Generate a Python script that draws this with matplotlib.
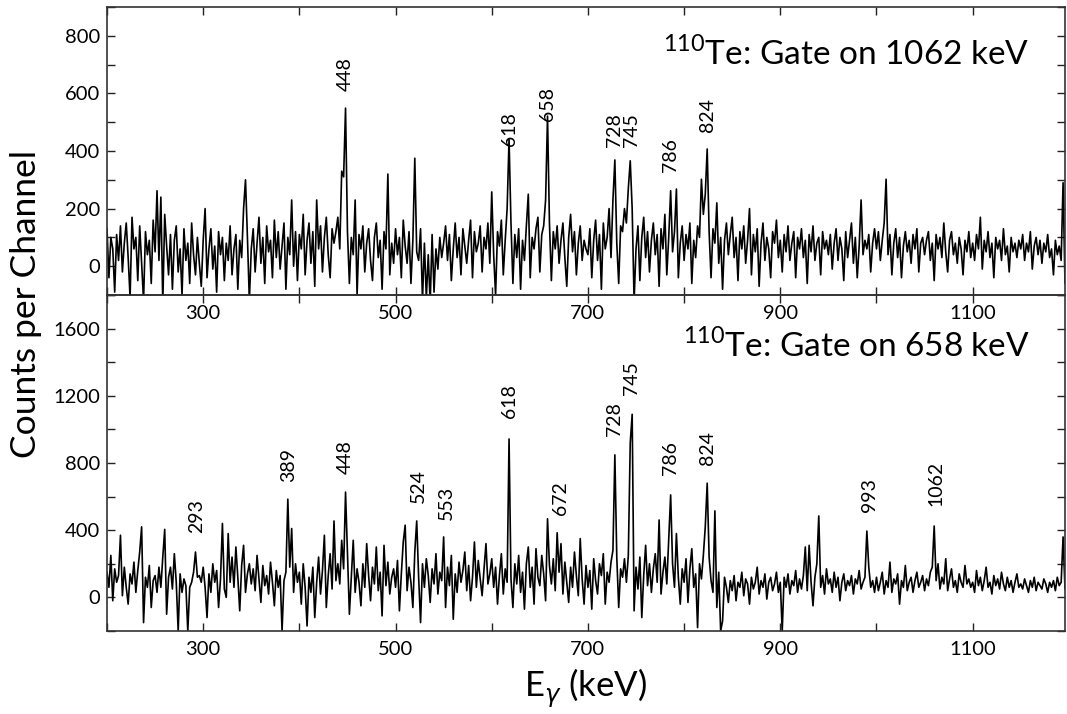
import numpy as np
import matplotlib
matplotlib.use("Agg")
import matplotlib.pyplot as plt
from matplotlib.ticker import MultipleLocator

plt.rcParams['font.family'] = ['Lato', 'DejaVu Sans']
plt.rcParams['font.weight'] = 'normal'
plt.rcParams['text.color'] = 'black'
plt.rcParams['xtick.color'] = 'black'
plt.rcParams['ytick.color'] = 'black'
plt.rcParams['mathtext.fontset'] = 'dejavusans'

# channel energies (keV), 2 keV per point
energy = np.arange(200, 1200, 2)

# counts per channel, gate on 1062 keV (rows of 50 keV)
gate_1062 = [
    130, -40, 100, 60, -90, 110, 20, 140, -20, 80, 150, 30, -110, 170, 60, 100, -50, 140, 10, -120, 120, 40, 90, -60, 160,
    50, 262, 20, 240, -130, 180, 70, -30, 110, -80, 90, 140, -20, 60, -100, 130, 20, 80, -60, 150, 40, -30, 100, 10, -70,
    90, 200, -40, 60, 130, -10, 70, -90, 120, 40, 100, -50, 80, 20, 140, -30, 60, 110, -80, 90, 30, 200, 300, 100, -120,
    60, 130, -20, 80, 170, 10, 100, -60, 140, 50, 90, -40, 160, 30, 120, -10, 70, 150, -80, 100, 40, 230, 0, 120, -50,
    110, 60, 180, -30, 90, 150, 10, 120, -70, 230, 60, 140, -20, 100, 170, 40, -40, 130, 80, 120, 170, 60, 330, 310, 549,
    120, -60, 100, 40, 230, -100, 110, 60, 140, -20, 80, 130, 20, -50, 100, 150, 30, 90, -80, 120, 60, 320, -30, 80, 10,
    130, 40, 100, -40, 160, 70, 10, 120, -60, 90, 375, 50, 20, 130, -120, 80, -110, 40, -130, 110, -90, 60, -10, 100, 30,
    80, 140, 20, 110, -50, 60, 150, 30, 100, -30, 130, 70, 10, 90, 160, -40, 120, 50, 80, 140, -20, 100, 60, 150, 10,
    258, 40, -100, 120, 70, 160, -30, 90, 200, 441, 150, -60, 110, 30, 130, -80, 90, 20, 140, 250, -40, 100, 60, 130, 170,
    -20, 110, 140, 230, 521, 150, -50, 120, 60, 140, 10, 90, 150, 30, -70, 100, 180, 50, 120, -30, 80, 140, 20, 90, 60,
    40, 130, -40, 90, 160, 20, 110, -80, 150, 60, 100, 200, 30, 230, 369, 80, -60, 140, 120, 200, 150, 270, 366, 200, -120,
    60, 140, -50, 100, 170, 30, 120, -20, 90, 150, 40, 110, -70, 130, 60, 180, -30, 100, 262, 50, 120, 268, -40, 80, 140,
    20, 110, 60, 150, -60, 90, 30, 140, 100, 302, 180, 250, 407, 120, -40, 130, 80, 220, 10, 100, -80, 90, 150, 40, 110,
    170, 30, 100, -50, 120, 60, 140, 10, 90, 200, -30, 110, 50, 130, -70, 80, 150, 20, 100, 60, -40, 120, 80, 160, 30,
    90, -20, 110, 50, 140, 20, 80, 120, -40, 100, 60, 130, 30, 90, -60, 110, 50, 140, 20, 80, 100, -30, 120, 60, 90,
    40, 110, -10, 80, 130, 20, 100, 60, -50, 120, 30, 90, 150, 10, 100, -40, 70, 230, 40, 90, 60, 110, -20, 80, 130,
    60, 120, 20, 90, 150, 302, 40, 110, -30, 80, 130, 30, 100, -40, 70, 120, 50, 90, 10, 110, 60, 130, -20, 80, 100,
    40, 90, 120, 20, 80, -50, 110, 60, 100, 30, 150, 50, -20, 90, 120, 40, 80, 10, 100, 60, -30, 90, 50, 120, 30,
    80, 20, 110, 60, 170, -10, 90, 50, 120, 30, 80, -40, 100, 60, 90, 20, 130, 40, 70, -20, 100, 50, 80, 30, 90,
    60, 110, 20, 80, 50, 120, -10, 70, 100, 40, 90, 10, 80, 50, 110, 30, 60, -30, 90, 40, 70, 20, 290, -60, 50,
]

# counts per channel, gate on 658 keV
gate_658 = [
    150, 60, 250, -20, 170, 90, 130, 370, 10, 180, 60, -40, 140, 80, 210, 30, 160, 270, 420, -150, 120, 60, 190, -60, 100,
    130, 30, 180, 60, 240, 405, -100, 120, 180, 50, 260, 90, -200, 140, 30, 110, 70, -200, 60, 90, 150, 270, 120, 130, 90,
    180, 60, -120, 140, 30, 200, 90, 160, -60, 110, 440, 50, 0, 380, 90, 240, 60, 300, 120, -80, 190, 310, 30, 140, 200,
    80, 170, 40, 250, 110, -30, 190, 70, 130, 20, 210, 90, -50, 160, 60, 130, -200, 100, 150, 585, 180, 410, 30, 200, 90,
    150, -40, 200, 60, -170, 120, 30, 180, -120, 90, 240, 20, 160, 370, -60, 130, 260, 50, 455, 100, 200, 80, 340, 170, 627,
    260, -100, 120, 340, 30, 170, 90, -50, 200, 60, 320, 130, -20, 180, 80, 300, 40, 150, -110, 310, 70, 210, 20, 120, 170,
    60, 220, -80, 140, 330, 430, 40, 180, 90, -60, 270, 455, 120, -150, 200, 60, 230, 130, -30, 170, 80, 260, 20, 150, 100,
    360, -60, 180, 70, 250, -130, 140, 30, 210, 90, 160, 270, 40, 190, -20, 120, 330, 60, 220, 110, 10, 170, 320, 80, 140,
    230, 60, 180, -40, 130, 260, 20, 170, 90, 943, 110, -60, 200, 80, 250, 30, 150, -70, 200, 300, 60, 180, -40, 290, 120,
    70, 250, 140, -20, 468, 190, 80, 230, 40, 385, 150, 320, 20, 210, 90, -30, 180, 60, 270, 130, 10, 350, 110, -40, 190,
    60, 160, -70, 230, 100, 20, 200, 130, 260, -40, 150, 90, 210, 280, 848, 240, -60, 170, 120, 230, 90, 250, 920, 1090, -80,
    180, 50, 240, -120, 130, 310, 70, 200, 30, 170, 260, 90, 461, 20, 150, 240, 80, 350, 610, 200, 60, 380, 120, -40, 170,
    90, 230, -30, 170, 290, 60, 140, -180, 200, 110, 250, 420, 680, 240, 100, 30, 515, -60, 150, -200, -140, 120, 60, -30, 100,
    40, 130, -20, 90, 60, 150, 10, 110, 80, -40, 120, 50, 90, 180, 20, 100, 60, 140, -10, 90, 120, 40, 80, 150, 30,
    90, -200, 120, 60, 140, 20, 100, 70, 160, 30, 110, 50, 130, 300, 40, 310, 90, -50, 120, 200, 485, 60, 130, 20, 170,
    80, 110, 30, 150, 60, 120, -20, 90, 140, 40, 100, 70, 130, 20, 110, 80, 160, 50, 90, 120, 395, 180, 60, 100, 30,
    120, 40, 90, 150, 20, 100, 60, 210, 30, 110, 80, 140, -40, 100, 60, 190, 40, 90, 120, 30, 100, 150, 60, 90, 130,
    40, 110, 70, 150, 180, 425, 100, 200, 50, 120, 80, 230, 40, 110, 170, 60, 100, 30, 140, 90, 60, 190, 80, 110, 60,
    90, 30, 160, 70, 120, 40, 100, 180, 60, 90, 20, 130, 70, 110, 50, 150, 80, 40, 120, 60, 100, 30, 90, 140, 60,
    80, 50, 110, 70, 30, 100, 60, 120, 40, 90, 70, 50, 110, 80, 30, 90, 60, 100, 40, 120, 70, 90, 360, 50, 80,
]

# peak labels: energy and height of label base
top_peaks = [448, 618, 658, 728, 745, 786, 824]
top_label_y = [608, 417, 504, 414, 414, 327, 466]
bot_peaks = [293, 389, 448, 524, 553, 618, 672, 728, 745, 786, 824, 993, 1062]
bot_label_y = [383, 687, 735, 562, 461, 1068, 490, 961, 1205, 729, 788, 508, 544]

W, H = 1067, 714
fig = plt.figure(figsize=(W / 100, H / 100), dpi=100)
# bottom panel created first so the upper panel's tick labels are drawn over it
ax2 = fig.add_axes([107 / W, 1 - 631 / H, 958 / W, 336 / H])
ax1 = fig.add_axes([107 / W, 1 - 295 / H, 958 / W, 288 / H])
ax1.patch.set_visible(False)


def style(ax, ymin, ymax, ymajor, yminor):
    ax.set_xlim(200, 1196)
    ax.set_ylim(ymin, ymax)
    ax.set_xticks([300, 500, 700, 900, 1100])
    ax.xaxis.set_minor_locator(MultipleLocator(100))
    ax.yaxis.set_major_locator(MultipleLocator(ymajor))
    ax.yaxis.set_minor_locator(MultipleLocator(yminor))
    ax.set_yticks([t for t in ax.get_yticks() if ymin < t < ymax])
    ax.tick_params(which='both', direction='in', top=True, right=True,
                   length=6, width=1, labelsize=14.5, color='#222222')
    ax.tick_params(axis='x', pad=7)
    ax.tick_params(axis='y', pad=5)
    for s in ax.spines.values():
        s.set_linewidth(1.2)
        s.set_color('#333333')


ax1.plot(energy, gate_1062, color='black', lw=1.2)
style(ax1, -100, 900, 200, 100)
ax2.plot(energy, gate_658, color='black', lw=1.2)
style(ax2, -200, 1800, 400, 200)

for e, y in zip(top_peaks, top_label_y):
    ax1.text(e, y, str(e), rotation=90, ha='center', va='bottom', fontsize=14)
for e, y in zip(bot_peaks, bot_label_y):
    ax2.text(e, y, str(e), rotation=90, ha='center', va='bottom', fontsize=14)

ax1.text(0.963, 0.799, r'$^{\mathregular{110}}$Te: Gate on 1062 keV',
         transform=ax1.transAxes, ha='right', va='baseline', fontsize=24)
ax2.text(0.963, 0.815, r'$^{\mathregular{110}}$Te: Gate on 658 keV',
         transform=ax2.transAxes, ha='right', va='baseline', fontsize=24)

fig.text(0.024, 0.575, 'Counts per Channel', rotation=90,
         ha='center', va='center', fontsize=25.5)
fig.text(586 / W, 1 - 697 / H, r'E$_{\gamma}$ (keV)',
         ha='center', va='baseline', fontsize=25)

fig.savefig('out.png', dpi=100)
